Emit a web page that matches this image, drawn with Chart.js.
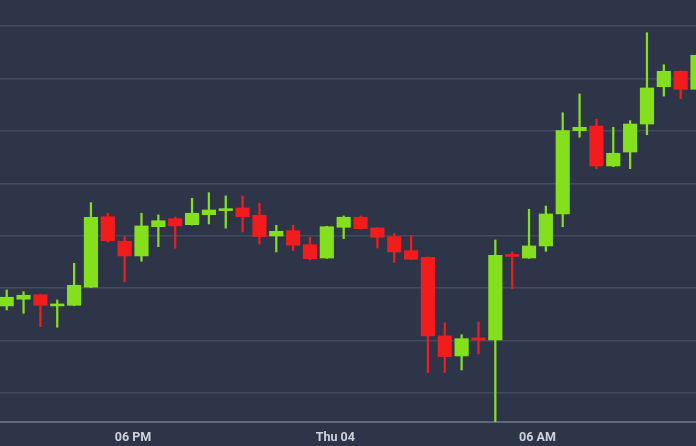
<!DOCTYPE html>
<html>
<head>
<meta charset="utf-8">
<script src="https://cdn.jsdelivr.net/npm/chart.js@4"></script>
<style>
  html, body { margin: 0; padding: 0; background: #2e3549; }
  #wrap { width: 696px; height: 446px; position: relative; }
</style>
</head>
<body>
<div id="wrap"><canvas id="candles"></canvas></div>
<script>
// 30 minute candles
const opens  = [7483.0, 7489.4, 7493.7, 7483.0, 7483.6, 7500.8, 7568.1, 7544.7, 7530.7, 7558.6,
                7566.2, 7560.5, 7570.0, 7573.9, 7576.4, 7569.5, 7549.7, 7554.8, 7541.4, 7528.7,
                7558.0, 7567.6, 7557.4, 7549.1, 7535.7, 7529.4, 7454.4, 7435.3, 7452.5, 7450.5,
                7532.1, 7528.7, 7540.2, 7570.7, 7650.2, 7654.6, 7616.5, 7629.8, 7656.5, 7692.1,
                7706.8, 7689.6];
const highs  = [7498.2, 7496.6, 7494.2, 7488.7, 7523.7, 7581.5, 7571.4, 7549.1, 7571.4, 7569.8,
                7567.9, 7585.7, 7591.0, 7587.9, 7587.9, 7580.9, 7559.9, 7559.9, 7548.5, 7559.0,
                7568.8, 7568.8, 7557.8, 7552.3, 7550.4, 7529.8, 7467.0, 7455.6, 7467.7, 7545.9,
                7534.5, 7575.2, 7578.3, 7667.3, 7685.2, 7661.0, 7653.4, 7659.7, 7743.6, 7713.1,
                7707.2, 7729.0];
const lows   = [7479.2, 7476.0, 7463.2, 7462.7, 7483.2, 7500.5, 7544.0, 7506.1, 7525.6, 7539.5,
                7538.0, 7560.2, 7561.2, 7557.1, 7553.5, 7542.1, 7534.5, 7535.7, 7526.8, 7528.3,
                7547.2, 7556.3, 7538.3, 7524.3, 7527.2, 7419.4, 7419.4, 7421.9, 7437.2, 7370.4,
                7499.5, 7528.4, 7535.1, 7558.6, 7643.9, 7613.9, 7615.8, 7613.9, 7646.3, 7683.2,
                7680.7, 7687.1];
const closes = [7491.3, 7493.2, 7483.6, 7484.9, 7502.7, 7567.6, 7545.2, 7530.7, 7559.3, 7564.3,
                7559.3, 7571.4, 7574.5, 7575.8, 7568.1, 7549.1, 7554.2, 7540.9, 7528.1, 7558.6,
                7567.6, 7556.7, 7548.5, 7534.5, 7527.5, 7454.4, 7434.6, 7451.8, 7450.5, 7531.3,
                7530.2, 7540.2, 7570.7, 7650.2, 7653.4, 7616.5, 7628.6, 7656.5, 7690.9, 7706.8,
                7689.6, 7722.1];

const xTickPos = [7.5, 19.5, 31.5];
const xTickLabels = ['06 PM', 'Thu 04', '06 AM'];
const yGrid = [7400, 7450, 7500, 7550, 7600, 7650, 7700, 7750];

const UP = '#84e01d';
const DOWN = '#f21c1c';

const candleColor = (c) => {
  const i = c.dataIndex;
  return closes[i] >= opens[i] ? UP : DOWN;
};

const bodies = opens.map((o, i) => ({ x: i, y: [o, closes[i]] }));
const wicks = lows.map((l, i) => ({ x: i, y: [l, highs[i]] }));

const ctx = document.getElementById('candles').getContext('2d');

new Chart(ctx, {
  type: 'bar',
  data: {
    datasets: [
      {
        label: 'body',
        data: bodies,
        backgroundColor: candleColor,
        barThickness: 13.5,
        grouped: false,
        borderSkipped: false
      },
      {
        label: 'wick',
        data: wicks,
        backgroundColor: candleColor,
        barThickness: 1.6,
        grouped: false,
        borderSkipped: false
      }
    ]
  },
  options: {
    responsive: true,
    maintainAspectRatio: false,
    animation: false,
    layout: { padding: 0 },
    plugins: {
      legend: { display: false },
      tooltip: { enabled: false }
    },
    scales: {
      x: {
        type: 'linear',
        offset: false,
        min: -0.398,
        max: 40.91,
        grid: { display: false, drawTicks: false, offset: false },
        border: { display: true, color: '#5f677d', width: 2 },
        afterBuildTicks: (scale) => {
          scale.ticks = xTickPos.map(v => ({ value: v }));
        },
        afterFit: (scale) => { scale.height = 24; },
        ticks: {
          padding: 8,
          maxRotation: 0,
          autoSkip: false,
          color: '#cfd2db',
          font: { family: 'Roboto', weight: 'bold', size: 12.5 },
          callback: (value, index) => xTickLabels[index]
        }
      },
      y: {
        min: 7372.3,
        max: 7774.8,
        grid: { color: '#424a60', lineWidth: 1.5, drawTicks: false },
        border: { display: false },
        afterBuildTicks: (scale) => {
          scale.ticks = yGrid.map(v => ({ value: v }));
        },
        afterFit: (scale) => { scale.width = 0; },
        ticks: { display: false }
      }
    }
  }
});
</script>
</body>
</html>
